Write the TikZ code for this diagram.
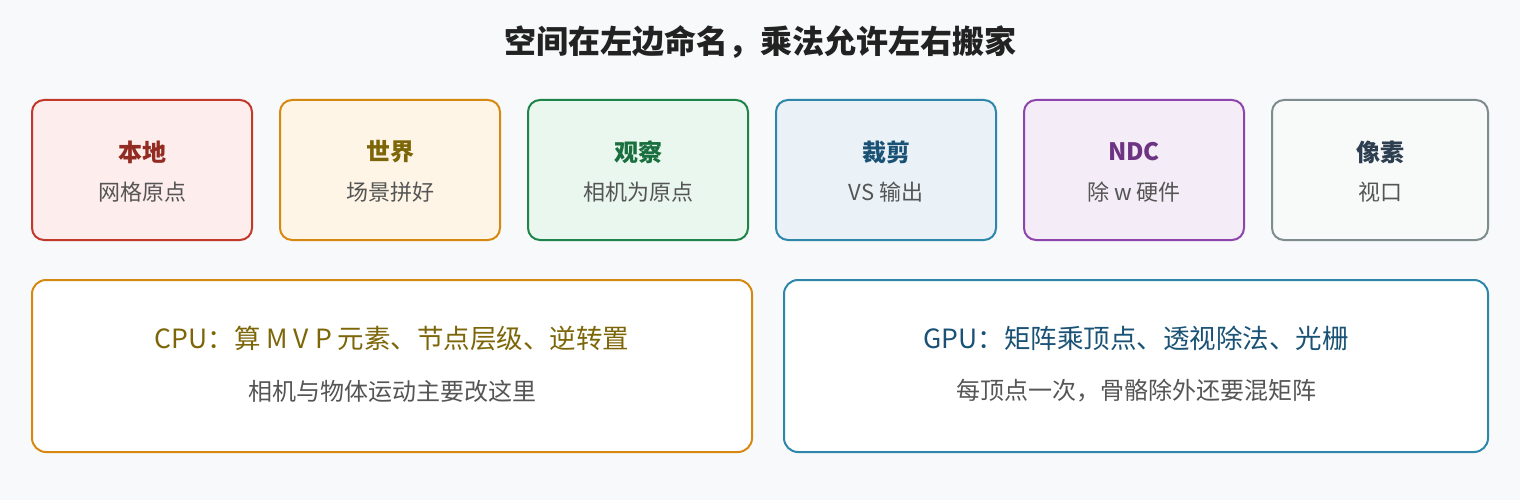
\documentclass[tikz,border=0pt]{standalone}
\usepackage{fontspec}
\setmainfont{Noto Sans CJK SC}
\usetikzlibrary{positioning}

\definecolor{bgcol}{HTML}{F8F9FA}
\definecolor{titlecol}{HTML}{222222}
\definecolor{subcol}{HTML}{555555}
\definecolor{redB}{HTML}{C0392B}\definecolor{redF}{HTML}{FDEDEC}\definecolor{redT}{HTML}{922B21}
\definecolor{oraB}{HTML}{D68910}\definecolor{oraF}{HTML}{FEF5E7}\definecolor{oraT}{HTML}{7D6608}
\definecolor{greB}{HTML}{1E8449}\definecolor{greF}{HTML}{E9F7EF}\definecolor{greT}{HTML}{196F3D}
\definecolor{bluB}{HTML}{2E86AB}\definecolor{bluF}{HTML}{EAF2F8}\definecolor{bluT}{HTML}{1A5276}
\definecolor{purB}{HTML}{8E44AD}\definecolor{purF}{HTML}{F4ECF7}\definecolor{purT}{HTML}{6C3483}
\definecolor{grayB}{HTML}{7F8C8D}\definecolor{grayF}{HTML}{F8F9F9}\definecolor{grayT}{HTML}{2C3E50}

\tikzset{
  stagebox/.style={draw,line width=2pt,rounded corners=12pt,minimum width=220pt,minimum height=140pt,inner sep=0pt},
  stagename/.style={font=\fontsize{24}{28}\selectfont\bfseries,inner sep=0pt},
  stagenote/.style={font=\fontsize{22}{26}\selectfont,text=subcol,inner sep=0pt},
  sidebox/.style={draw,line width=2pt,rounded corners=14pt,fill=white,minimum height=172pt,inner sep=0pt},
  sidemain/.style={font=\fontsize{26.5}{30}\selectfont,inner sep=0pt},
  sidenote/.style={font=\fontsize{24}{28}\selectfont,text=subcol,inner sep=0pt},
}

\begin{document}
\begin{tikzpicture}[x=1pt,y=-1pt]
        \fill[bgcol] (0,0) rectangle (1520,500);
        \useasboundingbox (0,0) rectangle (1520,500);

        \node[font=\fontsize{32}{38}\selectfont\bfseries,text=titlecol,inner sep=0pt] (title) at (760,42) {空间在左边命名，乘法允许左右搬家};

        % stage boxes
        \node[stagebox,draw=redB,fill=redF] (local) at (142,170) {};
        \node[stagename,text=redT] (local-t) at (142,152) {本地};
        \node[stagenote] (local-s) at (142,192) {网格原点};

        \node[stagebox,draw=oraB,fill=oraF] (world) at (390,170) {};
        \node[stagename,text=oraT] (world-t) at (390,152) {世界};
        \node[stagenote] (world-s) at (390,192) {场景拼好};

        \node[stagebox,draw=greB,fill=greF] (view) at (638,170) {};
        \node[stagename,text=greT] (view-t) at (638,152) {观察};
        \node[stagenote] (view-s) at (638,192) {相机为原点};

        \node[stagebox,draw=bluB,fill=bluF] (clip) at (886,170) {};
        \node[stagename,text=bluT] (clip-t) at (886,152) {裁剪};
        \node[stagenote] (clip-s) at (886,192) {VS 输出};

        \node[stagebox,draw=purB,fill=purF] (ndc) at (1134,170) {};
        \node[stagename,text=purT] (ndc-t) at (1134,152) {NDC};
        \node[stagenote] (ndc-s) at (1134,192) {除 w 硬件};

        \node[stagebox,draw=grayB,fill=grayF,minimum width=216pt] (pixel) at (1380,170) {};
        \node[stagename,text=grayT] (pixel-t) at (1380,152) {像素};
        \node[stagenote] (pixel-s) at (1380,192) {视口};

        % cpu / gpu
        \node[sidebox,draw=oraB,minimum width=720pt] (cpu) at (392,366) {};
        \node[sidemain,text=oraT] (cpu-t) at (392,338) {CPU：算 M V P 元素、节点层级、逆转置};
        \node[sidenote] (cpu-s) at (392,391) {相机与物体运动主要改这里};

        \node[sidebox,draw=bluB,minimum width=704pt] (gpu) at (1136,366) {};
        \node[sidemain,text=bluT] (gpu-t) at (1136,338) {GPU：矩阵乘顶点、透视除法、光栅};
        \node[sidenote] (gpu-s) at (1136,391) {每顶点一次，骨骼除外还要混矩阵};
    \end{tikzpicture}
\end{document}
